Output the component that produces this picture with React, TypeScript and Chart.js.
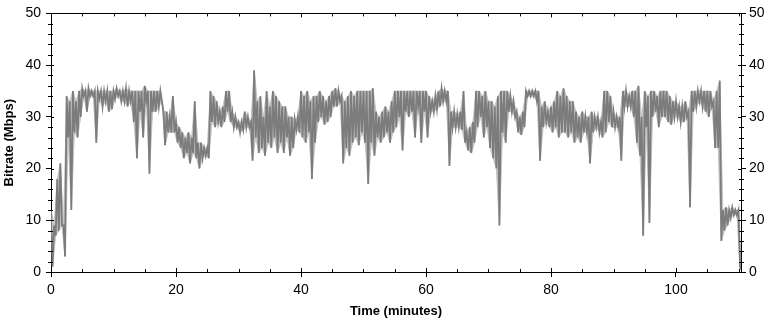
import React, { useEffect, useRef } from "react";
import { Chart, registerables } from "chart.js";

Chart.register(...registerables);

// Each half-minute bin holds the highest and lowest bitrate seen in it (Mbps)
const BIN_MINUTES = 0.5;
const binHigh: number[] = [
  // 0-10 min
  12, 9, 18, 21, 9, 34, 33, 35, 33, 35, 35.5, 35, 35.5, 35, 35, 35, 35, 35, 35, 35,
  // 10-20
  35, 35.5, 35, 35, 35.5, 35, 35, 35, 35, 35, 36, 35, 35, 35, 35, 35, 31, 31, 30, 34,
  // 20-30
  29, 28, 27, 26, 27, 26, 33, 25, 25, 24, 24, 35, 34, 33, 31, 32, 35, 35, 31, 30,
  // 30-40
  29, 29, 31, 30, 29, 39, 33, 34, 30, 35, 32, 35, 34, 33, 32, 32, 30, 30, 29.5, 30,
  // 40-50
  35, 34, 35, 33, 34, 34, 35, 34, 33, 34, 35, 35.5, 35, 34, 33, 34, 35, 34, 35, 35,
  // 50-60
  35, 35, 35, 35.5, 31, 30, 31, 32, 31, 33, 35, 35, 35, 35, 35, 35, 35, 35, 35, 35,
  // 60-70
  35, 34, 33, 34, 35, 35.5, 35, 35, 31, 31, 30.5, 31, 35, 27, 28, 29, 35, 35, 34, 35,
  // 70-80
  33, 33, 32, 34, 35, 35, 35, 34, 33, 31, 30, 31, 35, 35, 35, 35, 35, 32, 33, 31,
  // 80-90
  32, 33, 35, 34, 35.5, 34, 33, 33, 31, 30, 31, 30, 30, 31, 30, 30, 29, 35, 35, 34,
  // 90-100
  31, 30, 30, 35, 35, 34, 35, 35, 36, 30, 35, 34, 35, 35, 34, 35, 35, 35, 34, 33,
  // 100-110
  33, 32, 32, 33, 31, 35, 35, 35, 35, 35, 35, 35, 33, 35, 37, 12, 12.5, 12, 12.5, 12,
  // 110
  12,
];
const binLow: number[] = [
  // 0-10 min
  1, 7, 8, 9, 3, 26, 12, 27, 26, 30, 34, 31, 34, 34, 25, 33.5, 32, 33, 31, 31.5,
  // 10-20
  33.5, 34, 33, 33, 32, 33, 29, 22, 31, 26, 33, 19, 31, 31, 32, 33, 24.5, 27, 27, 27,
  // 20-30
  25, 24, 22, 23, 21, 23, 22, 20, 22, 22.5, 22, 29, 28, 29, 28, 29, 31, 29, 28, 28,
  // 30-40
  27, 27.5, 28, 28, 21.5, 26, 23, 24, 22.5, 25, 24, 26, 23, 25, 23, 26, 22.5, 24, 27.5, 27,
  // 40-50
  26, 25, 27, 18, 25, 29, 30, 28.5, 29, 30, 32, 32, 33, 21, 24, 22.5, 25, 26, 24.5, 27,
  // 50-60
  25, 17, 25, 22.5, 26, 25, 26, 27, 25, 27, 28, 30, 23.5, 31, 30, 31, 26, 32, 25, 31,
  // 60-70
  26, 31, 31, 31.5, 32, 33, 33, 20.5, 28, 28, 28, 27.5, 25, 23.5, 23, 25, 28, 30, 26, 28,
  // 70-80
  24, 22, 20, 9, 27, 25, 31, 31, 30, 27, 26.5, 28, 34, 34, 34, 33, 21.5, 28, 29, 28,
  // 80-90
  27, 28, 26, 27, 27, 26, 27, 25, 26, 25, 27, 27, 21, 27, 28, 27, 26, 27, 29, 28,
  // 90-100
  28, 28, 21.5, 32, 32, 32, 30, 25, 22.5, 7, 28, 9.5, 30, 31, 28, 30, 30, 29, 28.5, 30,
  // 100-110
  30, 29, 29, 30, 12.5, 31, 32, 33, 32, 31, 30, 32, 24, 24, 6, 8, 9, 10.5, 11, 11,
  // 110
  1,
];
const END_TIME = 110.4;
const END_VALUE = 0.5;

const xTickValues = [0, 20, 40, 60, 80, 100];
const yTickValues = [0, 10, 20, 30, 40, 50];
const X_MINOR_STEP = 5;
const Y_MINOR_STEP = 2;

const X_TITLE = "Time (minutes)";
const Y_TITLE = "Bitrate (Mbps)";

const LINE_GRAY = "#7c7c7c";
const HALO_GRAY = "#c4c4c4";
const TICK_FONT = { family: "'Liberation Sans', Arial, sans-serif", size: 14 };
const TITLE_FONT = { family: "'Liberation Sans', Arial, sans-serif", size: 13, weight: "bold" as const };

function highPoints() {
  const pts = binHigh.map((v, i) => ({ x: i * BIN_MINUTES, y: v }));
  pts.push({ x: END_TIME, y: END_VALUE });
  return pts;
}
function lowPoints() {
  const pts = binLow.map((v, i) => ({ x: i * BIN_MINUTES + BIN_MINUTES / 2, y: v }));
  pts.push({ x: END_TIME, y: END_VALUE });
  return pts;
}
function zigzagPoints() {
  const pts: { x: number; y: number }[] = [];
  for (let i = 0; i < binHigh.length; i++) {
    const t = i * BIN_MINUTES;
    pts.push({ x: t, y: binHigh[i] });
    pts.push({ x: t + BIN_MINUTES / 2, y: binLow[i] });
  }
  pts.push({ x: END_TIME, y: END_VALUE });
  return pts;
}

const framePlugin = {
  id: "frameTicks",
  afterDraw(chart: any) {
    const { ctx, chartArea } = chart;
    const { left, right, top, bottom } = chartArea;
    const xs = chart.scales.x;
    const ys = chart.scales.y;
    ctx.save();
    ctx.strokeStyle = "#000";
    ctx.lineWidth = 1;
    ctx.beginPath();
    ctx.moveTo(left, Math.round(top) + 0.5);
    ctx.lineTo(right, Math.round(top) + 0.5);
    for (let v = 0; v <= xs.max + 1e-6; v += X_MINOR_STEP) {
      const px = Math.round(xs.getPixelForValue(v)) + 0.5;
      const major = xTickValues.includes(v);
      const len = major ? 4 : 3;
      ctx.moveTo(px, bottom);
      ctx.lineTo(px, bottom - len);
      ctx.moveTo(px, top);
      ctx.lineTo(px, top + len);
    }
    for (let v = 0; v <= 50 + 1e-6; v += Y_MINOR_STEP) {
      const py = Math.round(ys.getPixelForValue(v)) + 0.5;
      const major = yTickValues.includes(v);
      const inLen = major ? 3 : 2;
      const outLen = major ? 0 : 3;
      ctx.moveTo(left - outLen, py);
      ctx.lineTo(left + inLen, py);
      ctx.moveTo(right + outLen, py);
      ctx.lineTo(right - inLen, py);
    }
    ctx.stroke();
    ctx.restore();
  },
};

export default function App() {
  const canvasRef = useRef<HTMLCanvasElement | null>(null);

  useEffect(() => {
    if (!canvasRef.current) return;
    const yAxisCommon = {
      type: "linear" as const,
      min: 0,
      max: 50,
      afterBuildTicks: (s: any) => {
        s.ticks = yTickValues.map((v) => ({ value: v }));
      },
      grid: { display: true, drawOnChartArea: false, drawTicks: true, tickLength: 5, color: "#000", lineWidth: 1 },
      border: { display: true, color: "#000", width: 1 },
    };
    const chart = new Chart(canvasRef.current, {
      type: "line",
      data: {
        datasets: [
          {
            label: "Bitrate",
            data: zigzagPoints(),
            borderColor: LINE_GRAY,
            borderWidth: 1.8,
            pointRadius: 0,
            fill: false,
            tension: 0,
            order: 0,
          },
          {
            label: "High",
            data: highPoints(),
            borderColor: HALO_GRAY,
            backgroundColor: HALO_GRAY,
            borderWidth: 1,
            pointRadius: 0,
            fill: "+1",
            tension: 0,
            order: 1,
          },
          {
            label: "Low",
            data: lowPoints(),
            borderColor: HALO_GRAY,
            borderWidth: 1,
            pointRadius: 0,
            fill: false,
            tension: 0,
            order: 2,
          },
        ],
      },
      options: {
        animation: false,
        responsive: true,
        maintainAspectRatio: false,
        layout: { padding: { top: 10, left: 0, right: 0, bottom: 0 } },
        plugins: { legend: { display: false }, tooltip: { enabled: false } },
        scales: {
          x: {
            type: "linear",
            min: 0,
            max: END_TIME,
            afterBuildTicks: (s: any) => {
              s.ticks = xTickValues.map((v) => ({ value: v }));
            },
            afterFit: (s: any) => {
              s.height = 50;
            },
            ticks: { font: TICK_FONT, color: "#000", maxRotation: 0, autoSkip: false, padding: 5 },
            grid: { display: true, drawOnChartArea: false, drawTicks: true, tickLength: 5, color: "#000", lineWidth: 1 },
            border: { display: true, color: "#000", width: 1 },
            title: { display: true, text: X_TITLE, font: TITLE_FONT, color: "#000", padding: { top: 0, bottom: 3 } },
          },
          y: {
            ...yAxisCommon,
            position: "left",
            afterFit: (s: any) => {
              s.width = 51;
            },
            ticks: { font: TICK_FONT, color: "#000", padding: 5 },
            title: { display: true, text: Y_TITLE, font: TITLE_FONT, color: "#000", padding: { top: 2, bottom: 0 } },
          },
          y2: {
            ...yAxisCommon,
            position: "right",
            afterFit: (s: any) => {
              s.width = 30;
            },
            ticks: { font: TICK_FONT, color: "#000", padding: 3 },
          },
        },
      },
      plugins: [framePlugin],
    });
    return () => chart.destroy();
  }, []);

  return (
    <div style={{ position: "absolute", left: 0, top: 0, width: 771, height: 322, background: "#fff" }}>
      <canvas ref={canvasRef} />
    </div>
  );
}
